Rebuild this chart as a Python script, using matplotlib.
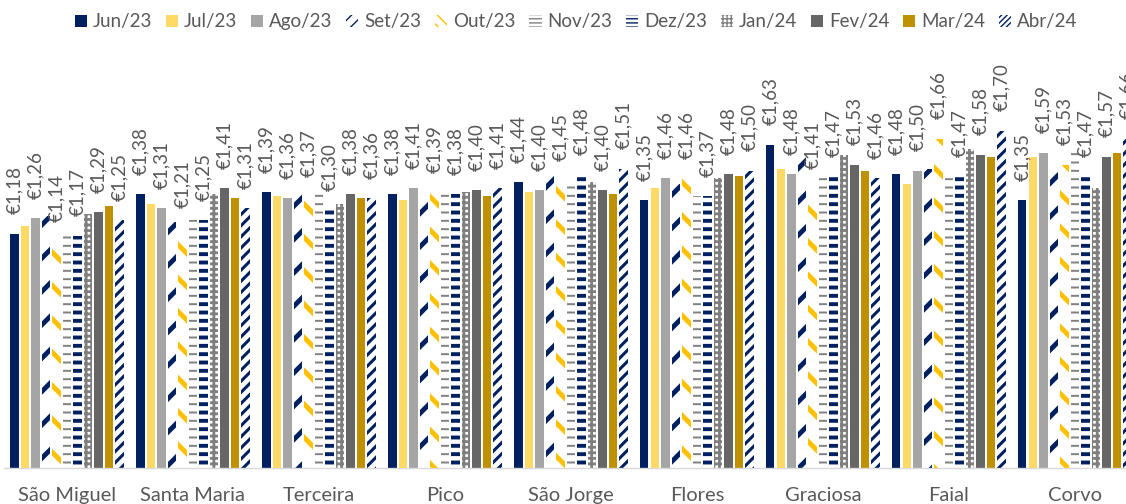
import matplotlib
matplotlib.use("Agg")
import matplotlib.pyplot as plt
from matplotlib.patches import Patch
import numpy as np

plt.rcParams['font.family'] = ['Lato', 'DejaVu Sans']

islands = ["São Miguel", "Santa Maria", "Terceira", "Pico", "São Jorge",
           "Flores", "Graciosa", "Faial", "Corvo"]
months = ["Jun/23", "Jul/23", "Ago/23", "Set/23", "Out/23", "Nov/23",
          "Dez/23", "Jan/24", "Fev/24", "Mar/24", "Abr/24"]

jun23 = [1.18, 1.38, 1.39, 1.38, 1.44, 1.35, 1.63, 1.48, 1.35]
jul23 = [1.22, 1.33, 1.37, 1.35, 1.39, 1.41, 1.51, 1.43, 1.57]
ago23 = [1.26, 1.31, 1.36, 1.41, 1.40, 1.46, 1.48, 1.50, 1.59]
set23 = [1.27, 1.24, 1.40, 1.38, 1.51, 1.43, 1.57, 1.51, 1.49]
out23 = [1.14, 1.21, 1.37, 1.39, 1.45, 1.46, 1.41, 1.66, 1.53]
nov23 = [1.17, 1.25, 1.38, 1.38, 1.42, 1.37, 1.46, 1.47, 1.59]
dez23 = [1.17, 1.25, 1.30, 1.38, 1.48, 1.37, 1.47, 1.47, 1.47]
jan24 = [1.28, 1.38, 1.33, 1.39, 1.44, 1.46, 1.58, 1.61, 1.41]
fev24 = [1.29, 1.41, 1.38, 1.40, 1.40, 1.48, 1.53, 1.58, 1.57]
mar24 = [1.32, 1.36, 1.36, 1.37, 1.38, 1.47, 1.50, 1.57, 1.59]
abr24 = [1.25, 1.31, 1.36, 1.41, 1.51, 1.50, 1.46, 1.70, 1.66]

series = [jun23, jul23, ago23, set23, out23, nov23, dez23, jan24, fev24, mar24, abr24]
labelled = [True, False, True, False, True, False, True, False, True, False, True]

# style: (facecolor, hatchcolor, bar hatch, legend hatch, hatch linewidth)
styles = [
    ("#002060", None, None, None, 1.0),
    ("#FFD966", None, None, None, 1.0),
    ("#A5A5A5", None, None, None, 1.0),
    ("white", "#002060", "/", "///", 3.5),
    ("white", "#FFC000", "\\", "\\\\\\", 3.5),
    ("white", "#808080", "--", "----", 1.4),
    ("white", "#002060", "--", "----", 2.8),
    ("white", "#7F7F7F", "+++", "++++", 2.0),
    ("#666666", None, None, None, 1.0),
    ("#BF9000", None, None, None, 1.0),
    ("white", "#002060", "///", "//////", 2.2),
]

W, H = 1126, 504
fig = plt.figure(figsize=(W / 100, H / 100), dpi=100)
ax_left, ax_bottom, ax_top = 4, 467.5, 50
ax = fig.add_axes([ax_left / W, (H - ax_bottom) / H, 1 - ax_left / W, (ax_bottom - ax_top) / H])

step_px = 126.0
c0_px = 66.9
slot = 10.53 / step_px
bw = 8.5 / step_px
x = np.arange(len(islands))

px_per_eur = 198.0
ax.set_ylim(0, (ax_bottom - ax_top) / px_per_eur)
ax.set_xlim((ax_left - c0_px) / step_px, (W - c0_px) / step_px)

handles = []
for i, (vals, st) in enumerate(zip(series, styles)):
    fc, hc, hatch, lhatch, hlw = st
    pos = x + (i - 5) * slot
    with plt.rc_context({'hatch.linewidth': hlw}):
        if hatch:
            bars = ax.bar(pos, vals, width=bw, facecolor=fc, edgecolor=hc,
                          hatch=hatch, linewidth=0)
        else:
            bars = ax.bar(pos, vals, width=bw, facecolor=fc, linewidth=0)
        for b in bars:
            if hasattr(b, 'set_hatch_linewidth'):
                b.set_hatch_linewidth(hlw)
    lw_leg = min(hlw, 2.0)
    with plt.rc_context({'hatch.linewidth': lw_leg}):
        if lhatch:
            h = Patch(facecolor=fc, edgecolor=hc, hatch=lhatch, linewidth=0, label=months[i])
        else:
            h = Patch(facecolor=fc, linewidth=0, label=months[i])
        if hasattr(h, 'set_hatch_linewidth'):
            h.set_hatch_linewidth(lw_leg)
        handles.append(h)
    if labelled[i]:
        for xp, v in zip(pos, vals):
            ax.annotate("€" + f"{v:.2f}".replace(".", ","), (xp, v),
                        xytext=(0, 14), textcoords="offset points",
                        rotation=90, ha="center", va="bottom",
                        fontsize=13.5, color="#595959", annotation_clip=False)

for s in ["left", "right", "top"]:
    ax.spines[s].set_visible(False)
ax.spines["bottom"].set_color("#D9D9D9")
ax.spines["bottom"].set_linewidth(1.0)
ax.set_yticks([])
ax.set_xticks(x)
ax.set_xticklabels(islands, fontsize=14.5, color="#595959")
ax.tick_params(axis="x", length=0, pad=14)

fig.legend(handles=handles, loc="center", bbox_to_anchor=(576 / W, 1 - 22 / H),
           ncol=11, frameon=False, fontsize=13.5, labelcolor="#595959",
           handlelength=0.65, handleheight=0.65, handletextpad=0.3,
           columnspacing=0.75, borderaxespad=0)

fig.savefig("out.png", dpi=100)
